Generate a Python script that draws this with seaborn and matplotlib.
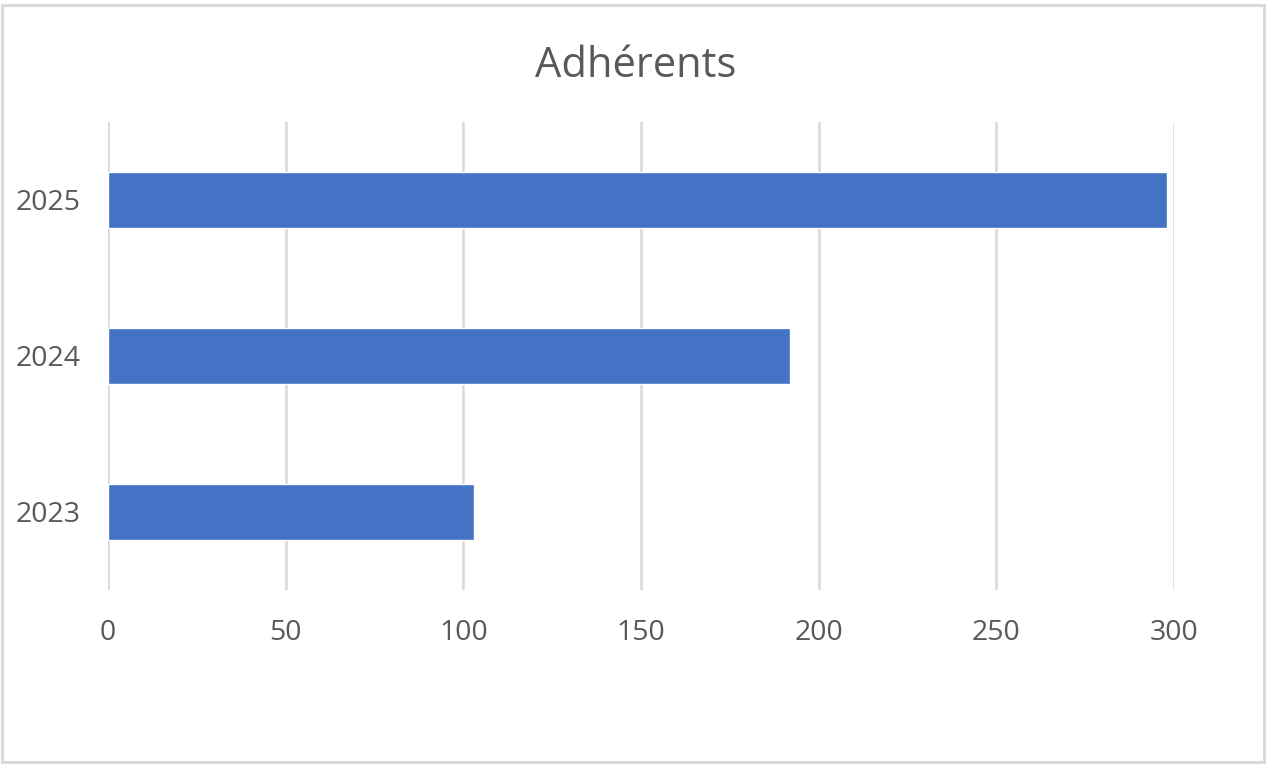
import matplotlib
matplotlib.use("Agg")
import matplotlib.pyplot as plt
import seaborn as sns
import pandas as pd
from matplotlib.patches import Rectangle

years = ["2025", "2024", "2023"]
adherents = [298, 192, 103]
x_ticks = [0, 50, 100, 150, 200, 250, 300]
title = "Adhérents"

df = pd.DataFrame({"year": years, "value": adherents})

sns.set_theme(style="white")
plt.rcParams["font.family"] = ["Open Sans", "DejaVu Sans"]

fig = plt.figure(figsize=(12.67, 7.64), dpi=100)
ax = fig.add_axes([108/1267, 1-590/764, (1174-108)/1267, (590-122)/764])

sns.barplot(data=df, x="value", y="year", order=years, orient="h",
            color="#4472C4", saturation=1, width=0.355, ax=ax, zorder=3)

ax.set_xlim(0, 300)
ax.set_ylim(2.5, -0.5)
ax.set_xticks(x_ticks)
ax.set_xticklabels([str(t) for t in x_ticks])
ax.xaxis.grid(True, color="#d9d9d9", linewidth=1.8, zorder=0)
ax.yaxis.grid(False)
ax.set_axisbelow(True)
for s in ax.spines.values():
    s.set_visible(False)
ax.tick_params(axis="both", length=0, labelsize=20.5, colors="#595959")
ax.tick_params(axis="y", pad=20)
ax.tick_params(axis="x", pad=21)
ax.set_xlabel("")
ax.set_ylabel("")

fig.text(636/1267, 1-66/764, title, ha="center", va="center",
         fontsize=30, color="#595959")

fig.patches.append(Rectangle((2/1267, 2/764), 1262/1267, 757/764,
                             transform=fig.transFigure, fill=False,
                             edgecolor="#d9d9d9", linewidth=2.2))

fig.savefig("out.png", dpi=100)
